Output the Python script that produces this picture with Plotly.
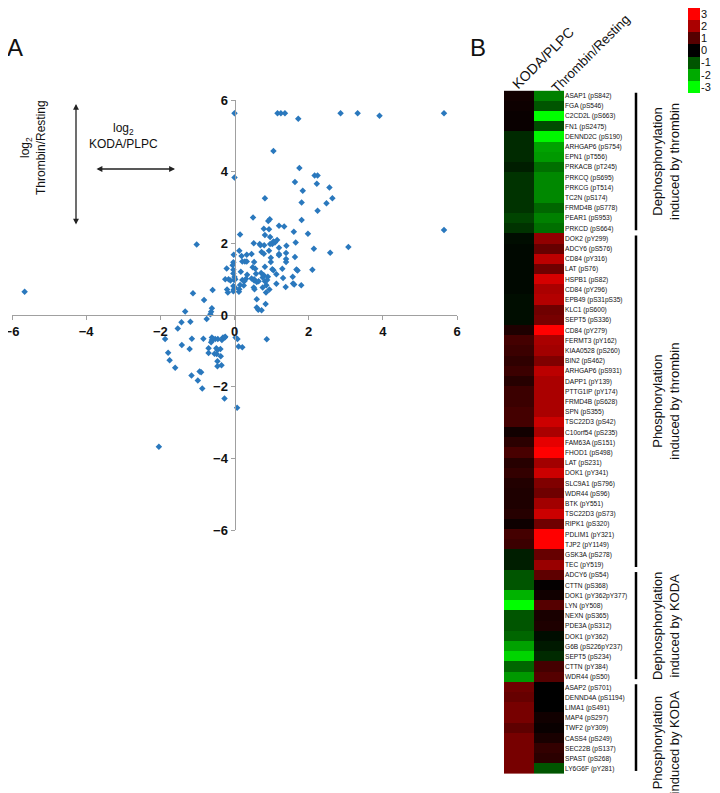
import plotly.graph_objects as go

W, H = 720, 793
OFF = 8  # page body margin around the plot div
FW, FH = W - OFF, H - OFF

# ---------------- Panel A data (log2 KODA/PLPC vs log2 Thrombin/Resting) ----------------
koda_x = [0.0, 1.16, 1.25, 1.36, 1.72, 2.86, 3.32, 3.91, 5.65,
          1.05, 1.75, 2.16, 2.24, 0.0, 1.63, 2.22, 2.56,
          1.84, 2.64, 0.82, 1.81, 2.48, 2.24, 0.50, 0.95, 0.91, 1.81, 1.20, 1.34,
          0.79, 0.93, 1.60, 1.98, 0.15, 0.82, 0.96, 1.15, 1.05, 1.09, 1.02, 1.65,
          0.68, 0.70, 0.52, 0.80, 0.96, 1.40, 1.20, 2.14, 3.07, 2.58, 0.13, 0.93,
          0.73, 0.33, 0.46, 0.19, 1.39, 1.20, 1.20, 0.79, 1.63, 0.98, -0.02, 1.39,
          1.39, 0.98, 0.28, 0.21, 0.33, 0.53, -0.03, -0.05, 0.49, 0.56, 0.82, 1.29,
          1.67, 1.70, 2.10, 1.05, 1.02, -0.21, -0.03, 0.17, -0.03, 0.00, 0.34, 0.58,
          0.72, 0.79, 1.13, 0.46, 0.53, 0.76, 0.90, 1.31, 1.57, 0.21, 0.27, 0.31,
          -0.25, -0.16, -0.11, -0.01, 0.02, 0.53, 0.60, 0.65, 0.82, 0.88, 1.13, 1.38,
          1.58, 1.61, 1.80, -0.03, 0.01, 0.15, 0.25, 0.52, 0.54, 0.76, 0.86, 0.94,
          0.85, -0.20, -0.02, -0.03, 0.13, 0.60, 0.84, 0.60, 0.64, 0.73, 5.65,
          -0.18, 0.12,
          -1.02, -5.66, -1.12, -0.59, -0.82, -0.61, -0.63, -0.65, -1.33,
          -0.75, -1.43, -1.19, -1.53, -1.87, -1.79, -1.75, -1.60, -1.42, -1.21,
          -1.15, -0.84, -0.61, -0.61, -0.63, -0.57, -0.52, -0.45, -0.34, -0.31,
          -0.26, -0.25, -0.70, -0.70, -0.49, -0.46, -0.38, -0.54, -0.48, -0.37,
          -0.46, -0.46, -0.35, -1.16, -0.94, -0.90, -0.99, -0.87, -0.27, 0.07,
          -2.04, 0.03, 0.08, 0.11, 0.21, 0.87]
thrombin_y = [5.63, 5.63, 5.63, 5.63, 5.48, 5.63, 5.63, 5.56, 5.63,
              4.58, 4.10, 3.89, 3.89, 3.84, 3.71, 3.66, 3.56,
              3.47, 3.26, 3.26, 3.14, 3.12, 2.91, 2.72, 2.67, 2.62, 2.65, 2.49, 2.47,
              2.41, 2.39, 2.32, 2.27, 2.25, 2.23, 2.18, 2.09, 2.05, 2.02, 1.98, 2.02,
              1.98, 1.95, 2.00, 1.95, 1.98, 1.93, 1.88, 1.85, 1.90, 1.74, 1.79, 1.79,
              1.76, 1.68, 1.70, 1.65, 1.73, 1.70, 1.67, 1.71, 1.62, 1.60, 1.68, 1.56,
              1.48, 1.48, 1.49, 1.49, 1.49, 1.48, 1.47, 1.39, 1.33, 1.29, 1.35, 1.29,
              1.27, 1.24, 1.26, 1.25, 1.28, 1.30, 1.26, 1.21, 1.16, 1.06, 1.12, 1.15,
              1.17, 1.11, 1.14, 1.02, 1.00, 1.05, 1.07, 1.03, 1.07, 0.98, 0.95, 1.01,
              1.00, 1.00, 0.96, 0.98, 1.00, 0.96, 0.92, 0.94, 0.94, 0.98, 0.87, 0.78,
              0.88, 0.85, 0.83, 0.81, 0.77, 0.84, 0.82, 0.77, 0.72, 0.77, 0.83, 0.71,
              0.63, 0.71, 0.71, 0.66, 0.72, 0.44, 0.31, 0.21, 0.15, 0.13, 2.37,
              0.63, 0.65,
              1.97, 0.65, 0.61, 0.70, 0.42, 0.19, 0.09, 0.02, 0.10,
              -0.11, -0.20, -0.19, -0.38, -0.67, -1.05, -1.26, -1.47, -0.84, -0.95,
              -0.66, -0.66, -0.63, -0.70, -0.76, -0.67, -0.67, -0.67, -0.70, -0.63,
              -0.63, -0.61, -0.93, -1.06, -0.93, -0.98, -0.95, -1.08, -1.09, -1.15,
              -1.29, -1.43, -1.40, -1.69, -1.58, -1.60, -1.83, -2.05, -2.33, -2.59,
              -3.68, -0.63, -0.67, -0.88, -0.90, -0.68]
axis_ticks = [-6, -4, -2, 0, 2, 4, 6]

# ---------------- Panel B data (heatmap) ----------------
site_labels = [
    "ASAP1 (pS842)", "FGA (pS546)", "C2CD2L (pS663)", "FN1 (pS2475)", "DENND2C (pS190)",
    "ARHGAP6 (pS754)", "EPN1 (pT556)", "PRKACB (pT245)", "PRKCQ (pS695)", "PRKCG (pT514)",
    "TC2N (pS174)", "FRMD4B (pS778)", "PEAR1 (pS953)", "PRKCD (pS664)",
    "DOK2 (pY299)", "ADCY6 (pS576)", "CD84 (pY316)", "LAT (pS76)", "HSPB1 (pS82)",
    "CD84 (pY296)", "EPB49 (pS31pS35)", "KLC1 (pS600)", "SEPT5 (pS336)", "CD84 (pY279)",
    "FERMT3 (pY162)", "KIAA0528 (pS260)", "BIN2 (pS462)", "ARHGAP6 (pS931)", "DAPP1 (pY139)",
    "PTTG1IP (pY174)", "FRMD4B (pS628)", "SPN (pS355)", "TSC22D3 (pS42)", "C10orf54 (pS235)",
    "FAM63A (pS151)", "FHOD1 (pS498)", "LAT (pS231)", "DOK1 (pY341)", "SLC9A1 (pS796)",
    "WDR44 (pS96)", "BTK (pY551)", "TSC22D3 (pS73)", "RIPK1 (pS320)", "PDLIM1 (pY321)",
    "TJP2 (pY1149)", "GSK3A (pS278)", "TEC (pY519)",
    "ADCY6 (pS54)", "CTTN (pS368)", "DOK1 (pY362pY377)", "LYN (pY508)", "NEXN (pS365)",
    "PDE3A (pS312)", "DOK1 (pY362)", "G6B (pS226pY237)", "SEPT5 (pS234)", "CTTN (pY384)",
    "WDR44 (pS50)",
    "ASAP2 (pS701)", "DENND4A (pS1194)", "LIMA1 (pS491)", "MAP4 (pS297)", "TWF2 (pY309)",
    "CASS4 (pS249)", "SEC22B (pS137)", "SPAST (pS268)", "LY6G6F (pY281)",
]
koda_plpc = [0.2, 0.15, 0.1, 0.1, -0.5, -0.5, -0.5, -0.35, -0.6, -0.6, -0.6, -0.6, -0.8, -0.6,
             -0.15, -0.1, -0.1, -0.1, -0.1, -0.1, -0.15, -0.15, -0.15, 0.35, 0.8, 0.7, 0.55,
             0.7, 0.45, 0.7, 0.7, 0.8, 0.8, 0.2, 0.5, 0.85, 0.45, 0.6, 0.4, 0.35, 0.35, 0.45,
             0.15, 0.8, 0.7, -0.35, -0.35,
             -1.0, -1.0, -2.1, -3.0, -1.0, -1.0, -1.2, -1.9, -2.5, -1.2, -1.8,
             1.3, 1.2, 1.4, 1.4, 1.1, 1.4, 1.4, 1.4, 1.4]
thrombin_resting = [-1.5, -1.0, -3.0, -0.9, -2.9, -1.9, -1.8, -1.3, -1.6, -1.6, -1.6, -1.2, -1.5, -1.3,
                    1.7, 1.2, 2.2, 1.3, 2.5, 2.0, 2.1, 1.3, 1.4, 3.0, 2.0, 1.9, 1.5,
                    2.2, 2.0, 2.0, 2.0, 2.0, 2.4, 2.0, 2.7, 3.0, 1.9, 2.4, 1.5, 1.3, 1.9, 2.4,
                    1.3, 3.0, 3.0, 1.2, 1.8,
                    1.1, 0.05, 0.2, 1.0, 0.3, 0.35, -0.15, -0.3, -0.5, 0.8, 1.0,
                    0.0, 0.0, 0.0, 0.2, 0.1, 0.3, 0.6, 0.5, -1.0]
column_names = ["KODA/PLPC", "Thrombin/Resting"]
group_labels = ["Dephosphorylation<br>induced by thrombin", "Phosphorylation<br>induced by thrombin",
                "Dephosphorylation<br>induced by KODA", "Phosphorylation<br>induced by KODA"]
group_first_row = [0, 14, 47, 58]
group_last_row = [13, 46, 57, 66]
legend_values = [3, 2, 1, 0, -1, -2, -3]

# label placement tweak (rows) so the last two group captions do not collide
group_label_shift = [0, 0, 0, 1.4]

colorscale = [[0.0, "#00ff00"], [0.5, "#000000"], [1.0, "#ff0000"]]


def px_x(p):
    return min(1.0, max(0.0, (p - OFF) / FW))


def px_y(p):
    return min(1.0, max(0.0, 1 - (p - OFF) / FH))


fig = go.Figure()

fig.add_trace(go.Scatter(
    x=koda_x, y=thrombin_y, mode="markers",
    marker=dict(symbol="diamond", size=5, color="#2a78bd"),
    xaxis="x", yaxis="y", showlegend=False, hoverinfo="skip"))

n = len(site_labels)
fig.add_trace(go.Heatmap(
    z=[[a, b] for a, b in zip(koda_plpc, thrombin_resting)],
    x=[0, 1], y=list(range(n)),
    colorscale=colorscale, zmin=-3, zmax=3, showscale=False,
    xaxis="x2", yaxis="y2", hoverinfo="skip"))

fig.add_trace(go.Heatmap(
    z=[[v] for v in legend_values], x=[0], y=list(range(len(legend_values))),
    colorscale=colorscale, zmin=-3, zmax=3, showscale=False,
    xaxis="x3", yaxis="y3", hoverinfo="skip"))

axis_font = dict(family="Liberation Sans, Arial", size=13, color="#111", weight="bold")
common_axis = dict(ticks="outside", ticklen=4, tickcolor="#a0a0a0", showline=True,
                   linecolor="#a0a0a0", linewidth=1, showgrid=False, zeroline=False,
                   tickfont=axis_font, automargin=False, ticklabeloverflow="allow")
fig.update_layout(
    template="none",
    width=FW, height=FH, margin=dict(l=0, r=0, t=0, b=0, autoexpand=False),
    paper_bgcolor="white", plot_bgcolor="white", showlegend=False,
    xaxis=dict(domain=[px_x(12), px_x(457)], range=[-6, 6], anchor="free",
               position=px_y(315), tickvals=axis_ticks, **common_axis),
    yaxis=dict(domain=[px_y(530), px_y(100)], range=[-6, 6], anchor="free",
               position=px_x(234.5), tickvals=axis_ticks, **common_axis),
    xaxis2=dict(domain=[px_x(504), px_x(564)], range=[-0.5, 1.5], anchor="y2",
                visible=False, automargin=False),
    yaxis2=dict(domain=[px_y(774), px_y(90.6)], range=[n - 0.5, -0.5], anchor="x2",
                side="right", tickvals=list(range(n)), ticktext=site_labels, ticks="",
                showline=False, showgrid=False, zeroline=False, automargin=False,
                ticklabeloverflow="allow",
                tickfont=dict(family="Liberation Sans, Arial", size=6.6, color="#111")),
    xaxis3=dict(domain=[px_x(688), px_x(700)], range=[-0.5, 0.5], anchor="y3",
                visible=False, automargin=False),
    yaxis3=dict(domain=[px_y(93), px_y(8)], range=[len(legend_values) - 0.5, -0.5],
                anchor="x3", side="right", tickvals=list(range(len(legend_values))),
                ticktext=[str(v) for v in legend_values], ticks="", showline=False,
                showgrid=False, zeroline=False, automargin=False,
                ticklabeloverflow="allow",
                tickfont=dict(family="Liberation Sans, Arial", size=11, color="#111")),
)

ann = []


def note(text, x, y, size, angle=0, **kw):
    ann.append(dict(text=text, x=px_x(x), y=px_y(y), xref="paper", yref="paper",
                    xanchor="center", yanchor="middle", showarrow=False, textangle=angle,
                    font=dict(family="Liberation Sans, Arial", size=size, color="#111"), **kw))


# panel letters
note("A", 15, 48, 24)
note("B", 478, 48, 24)
# axis descriptions in panel A
note("log<sub>2</sub><br>Thrombin/Resting", 33, 148, 12, angle=-90)
note("log<sub>2</sub><br>KODA/PLPC", 123, 136, 12)
# double arrows
ann.append(dict(text="", x=px_x(76), y=px_y(104), xref="paper", yref="paper",
                ax=0, ay=122, showarrow=True, arrowside="end+start", arrowhead=2,
                startarrowhead=2, arrowsize=0.9, arrowwidth=1.3, arrowcolor="#222"))
ann.append(dict(text="", x=px_x(175), y=px_y(169), xref="paper", yref="paper",
                ax=-80, ay=0, showarrow=True, arrowside="end+start", arrowhead=2,
                startarrowhead=2, arrowsize=0.9, arrowwidth=1.3, arrowcolor="#222"))
# heatmap column headers
note(column_names[0], 543, 58, 14, angle=-45)
note(column_names[1], 591, 54, 13.2, angle=-45)

shapes = []
for label, a, b, s in zip(group_labels, group_first_row, group_last_row, group_label_shift):
    shapes.append(dict(type="line", xref="paper", yref="y2", x0=px_x(636), x1=px_x(636),
                       y0=a - 0.3, y1=b + 0.2, line=dict(color="black", width=2.5)))
    ann.append(dict(text=label, x=px_x(666), y=(a + b) / 2 + s, xref="paper", yref="y2",
                    xanchor="center", yanchor="middle", showarrow=False, textangle=-90,
                    font=dict(family="Liberation Sans, Arial", size=13, color="#111")))

fig.update_layout(annotations=ann, shapes=shapes)
fig.write_html("out.html")
